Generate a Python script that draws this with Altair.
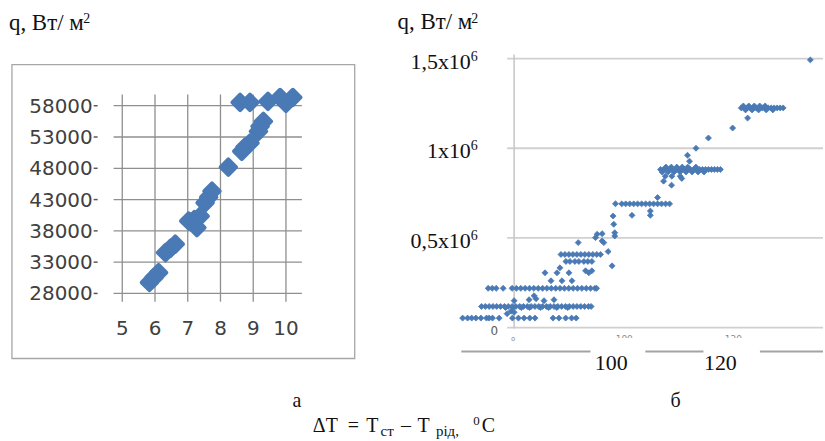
import altair as alt
import pandas as pd

SERIF = "Liberation Serif"
SANS = "DejaVu Sans"
BLUE = "#4a7ab5"

# ---------------- panel а ----------------
a_dt = [5.83, 6.11, 5.97, 6.32, 6.62, 6.47, 7.03, 7.38, 7.28, 7.20, 7.53, 7.74, 7.64,
        8.24, 8.65, 8.90, 8.75, 9.16, 9.31, 9.21, 8.60, 8.90, 9.45, 9.82, 10.21, 10.00]
a_q = [29750, 31340, 30550, 34530, 35870, 35200, 39580, 40370, 38510, 39800, 42490, 44350, 43400,
       48180, 50720, 52040, 51400, 53910, 55500, 54700, 58530, 58530, 58690, 59320, 59320, 58370]
a_xticks = [5, 6, 7, 8, 9, 10]
a_yticks = [28000, 33000, 38000, 43000, 48000, 53000, 58000]

# ---------------- panel б ----------------
rowA_q = 53000
rowA_dt = [70.74, 71.65, 72.40, 73.18, 74.09, 75.12, 75.60, 76.22, 77.44,
           79.87, 80.97, 82.01, 83.05, 84.02, 87.31, 88.40, 89.63, 90.72, 91.56]
rowB_q = 118000
rowB_dt = [74.2, 74.9, 75.6, 76.3, 77.0, 77.7, 78.4, 79.1, 79.8, 80.5, 81.2, 81.9, 82.6, 83.3,
           84.0, 84.7, 85.4, 86.1, 86.8, 87.5, 88.2, 88.9, 89.6, 90.3, 91.0, 91.7, 92.4, 93.1, 93.8, 94.3]
rowB2_q = 112000
rowB2_dt = [78.6, 80.0, 81.5, 83.0, 85.0, 86.5, 88.0, 90.0]
rowC_q = 219000
rowC_dt = [75.43, 76.16, 76.89, 78.17, 79.8, 80.6, 81.4, 82.2, 83.0, 83.8, 84.6, 85.4, 86.2, 87.0,
           87.8, 88.6, 89.4, 90.2, 91.0, 91.8, 92.6, 93.4, 94.2, 95.0, 95.3]
rowD_q = 369000
rowD_dt = [89.68, 90.41, 91.32, 92.05, 92.97, 93.70, 94.43]
rowE_q = 408000
rowE_dt = [88.77, 89.50, 90.23, 90.96, 91.69, 92.42, 93.15, 93.88, 94.61, 95.34, 96.02]
rowF_q = 690000
rowF_dt = [99.91, 100.64, 101.37, 102.10, 102.83, 103.56, 104.29, 105.02, 105.75, 106.48,
           107.21, 107.95, 108.68]
rowG_q = 882000
rowG_dt = [107.03, 107.58, 108.13, 108.68, 109.22, 109.77, 110.32, 110.87, 111.42, 111.96, 112.51,
           113.06, 113.61, 114.16, 114.70, 115.25, 115.80, 116.35, 116.89, 117.44, 117.99]
rowG2_q = 868000
rowG2_dt = [107.3, 108.4, 109.5, 110.6, 111.7, 112.8, 113.9, 115.0]
rowG3_q = 895000
rowG3_dt = [108.0, 109.0, 110.0, 111.0, 112.0, 113.5]
rowH_q = 1225000
rowH_dt = [121.83, 122.37, 122.92, 123.47, 124.02, 124.57, 125.11, 125.66, 126.21, 126.76,
           127.31, 127.85, 128.40, 128.95, 129.50]
rowH2_q = 1236000
rowH2_dt = [122.2, 123.2, 124.2, 125.2, 126.2]
rowH3_q = 1214000
rowH3_dt = [122.6, 123.8, 125.0, 126.4, 127.6]
scat_dt = [80.18, 82.92, 84.20, 83.84, 85.66, 87.49, 78.90, 79.63, 80.18,
           86.94, 88.95, 90.78, 85.84, 88.04, 90.23, 93.88, 88.58, 94.43, 93.28, 98.14, 97.41,
           91.93, 95.40, 96.31, 95.10, 96.31, 96.62,
           98.32, 98.45, 98.63, 98.63, 98.76,
           101.79, 105.15, 105.15, 106.48, 107.58, 109.04, 107.89, 109.10, 110.63, 110.92,
           112.33, 111.96, 113.52, 115.80, 120.24, 122.98, 134.48]
scat_q = [150000, 155600, 161100, 177800, 150000, 155600, 77800, 91700, 85000,
          261100, 261100, 261100, 305600, 305600, 305600, 305600, 333300, 316700, 316700, 344400, 423900,
          473900, 520600, 523900, 501700, 483300, 473900,
          622200, 576100, 529400, 511100, 690600,
          626100, 626100, 650000, 725000, 816700, 794400, 844400, 844400, 844400, 831700,
          927800, 961100, 1000000, 1057200, 1112800, 1168300, 1492800]
b_yticks = [0, 500000, 1000000, 1500000]
b_ylab_vals = [500000, 1000000, 1500000]
b_ylab_main = ["0,5x10", "1x10", "1,5x10"]
b_ylab_sup = ["6", "6", "6"]
b_xsmall_vals = [100, 120]
b_xsmall_lab = ["100", "120"]
b_xbig_vals = [100, 120]
b_xbig_lab = ["100", "120"]

# ---------------- helpers ----------------
ONE = pd.DataFrame({"k": [0]})


def note(text, x, y, size, align="left", font=SERIF, color="#111111"):
    return alt.Chart(ONE).mark_text(
        text=text, align=align, baseline="alphabetic", font=font, fontSize=size, color=color
    ).encode(x=alt.value(x), y=alt.value(y))


def rect(x, x2, y, y2, fill="white", stroke="white", sw=0):
    return alt.Chart(ONE).mark_rect(fill=fill, stroke=stroke, strokeWidth=sw).encode(
        x=alt.value(x), x2=alt.value(x2), y=alt.value(y), y2=alt.value(y2))


def hline(x, x2, y, color, sw):
    return alt.Chart(ONE).mark_rule(color=color, strokeWidth=sw).encode(
        x=alt.value(x), x2=alt.value(x2), y=alt.value(y))


# ---------------- panel а chart ----------------
A_X = alt.Scale(domain=[1.2964, 13.4693], nice=False, zero=False)
A_Y = alt.Scale(domain=[4385, 74608], nice=False, zero=False)

a_df = pd.DataFrame({"dt": a_dt, "q": a_q})
ax_df = pd.DataFrame({"t": a_xticks, "lbl": [str(t) for t in a_xticks]})
ay_df = pd.DataFrame({"v": a_yticks, "lbl": [str(v) for v in a_yticks]})

GRID_A = "#8f8f8f"
a_frame = rect(11, 355, 63, 358, fill="white", stroke="#a6a6a6", sw=1.3)
a_vgrid = alt.Chart(ax_df).mark_rule(color=GRID_A, strokeWidth=1.3).encode(
    x=alt.X("t:Q", scale=A_X, axis=None), y=alt.value(93), y2=alt.value(301))
a_hgrid = alt.Chart(ay_df).mark_rule(color=GRID_A, strokeWidth=1.3).encode(
    y=alt.Y("v:Q", scale=A_Y, axis=None), x=alt.value(113), x2=alt.value(302))
a_ticks = alt.Chart(ay_df).mark_rule(color="#595959", strokeWidth=1.5).encode(
    y=alt.Y("v:Q", scale=A_Y, axis=None), x=alt.value(93), x2=alt.value(97))
a_ylab = alt.Chart(ay_df).mark_text(
    align="right", baseline="middle", font=SANS, fontSize=20, color="#404040", dy=1
).encode(y=alt.Y("v:Q", scale=A_Y, axis=None), x=alt.value(92), text="lbl:N")
a_xlab = alt.Chart(ax_df).mark_text(
    align="center", baseline="middle", font=SANS, fontSize=20, color="#404040"
).encode(x=alt.X("t:Q", scale=A_X, axis=None), y=alt.value(328), text="lbl:N")
a_pts = alt.Chart(a_df).mark_point(
    shape="diamond", filled=True, size=240, color=BLUE, opacity=1,
    stroke=BLUE, strokeWidth=4, strokeJoin="round"
).encode(x=alt.X("dt:Q", scale=A_X, axis=None), y=alt.Y("q:Q", scale=A_Y, axis=None))

left = alt.layer(
    a_frame, a_vgrid, a_hgrid, a_ticks, a_ylab, a_xlab, a_pts,
    note("q, Вт/ м", 8, 28, 23),
    note("2", 82.5, 21, 14),
    note("а", 297, 407, 20, align="center"),
    note("ΔT", 313, 432, 20),
    note("=", 348, 432, 20),
    note("T", 366.5, 432, 20),
    note("ст", 381, 436, 15),
    note("–", 401.5, 432, 20),
    note("T", 418, 432, 20),
    note("рід,", 436.5, 436, 15),
    note("0", 474, 424.5, 13),
    note("C", 482.5, 432, 20),
).properties(width=400, height=441)

# ---------------- panel б chart ----------------
B_X = alt.Scale(domain=[59.178, 136.804], nice=False, zero=False)
B_Y = alt.Scale(domain=[-633333, 1816667], nice=False, zero=False)

groups = [
    (rowA_dt, rowA_q), (rowB_dt, rowB_q), (rowB2_dt, rowB2_q), (rowC_dt, rowC_q),
    (rowD_dt, rowD_q), (rowE_dt, rowE_q), (rowF_dt, rowF_q), (rowG_dt, rowG_q),
    (rowG2_dt, rowG2_q), (rowG3_dt, rowG3_q), (rowH_dt, rowH_q), (rowH2_dt, rowH2_q),
    (rowH3_dt, rowH3_q),
]
b_dt, b_q = [], []
for dts, qv in groups:
    b_dt += dts
    b_q += [qv] * len(dts)
b_dt += scat_dt
b_q += scat_q
b_df = pd.DataFrame({"dt": b_dt, "q": b_q})

GRID_B = "#d0d0d0"
b_grid = alt.Chart(pd.DataFrame({"v": b_yticks})).mark_rule(color=GRID_B, strokeWidth=1.8).encode(
    y=alt.Y("v:Q", scale=B_Y, axis=None), x=alt.value(108), x2=alt.value(425))
b_axis = alt.Chart(ONE).mark_rule(color="#c8c8c8", strokeWidth=1.6).encode(
    x=alt.value(115), y=alt.value(53), y2=alt.value(328))
b_pts = alt.Chart(b_df).mark_point(
    shape="diamond", filled=True, size=36, color=BLUE, opacity=1,
    stroke=BLUE, strokeWidth=0.8
).encode(x=alt.X("dt:Q", scale=B_X, axis=None), y=alt.Y("q:Q", scale=B_Y, axis=None))

ylab_df = pd.DataFrame({"v": b_ylab_vals, "main": b_ylab_main, "sup": b_ylab_sup})
b_ylab = alt.Chart(ylab_df).mark_text(
    align="right", baseline="alphabetic", font=SERIF, fontSize=22, color="#111111", dy=10
).encode(y=alt.Y("v:Q", scale=B_Y, axis=None), x=alt.value(71.5), text="main:N")
b_ysup = alt.Chart(ylab_df).mark_text(
    align="left", baseline="alphabetic", font=SERIF, fontSize=14, color="#111111", dy=2
).encode(y=alt.Y("v:Q", scale=B_Y, axis=None), x=alt.value(71.5), text="sup:N")
b_zero = alt.Chart(pd.DataFrame({"v": [0], "lbl": ["0"]})).mark_text(
    align="center", baseline="middle", font=SANS, fontSize=12, color="#595959", dy=3
).encode(y=alt.Y("v:Q", scale=B_Y, axis=None), x=alt.value(95), text="lbl:N")

xs_df = pd.DataFrame({"t": b_xsmall_vals, "lbl": b_xsmall_lab})
b_xsmall = alt.Chart(xs_df).mark_text(
    align="center", baseline="alphabetic", font=SANS, fontSize=9, color="#8a8a8a", dx=2
).encode(x=alt.X("t:Q", scale=B_X, axis=None), y=alt.value(341), text="lbl:N")
b_xzero = alt.Chart(pd.DataFrame({"t": [80], "lbl": ["o"]})).mark_text(
    align="center", baseline="alphabetic", font=SANS, fontSize=7, color="#8a8a8a"
).encode(x=alt.X("t:Q", scale=B_X, axis=None), y=alt.value(340), text="lbl:N")

xb_df = pd.DataFrame({"t": b_xbig_vals, "lbl": b_xbig_lab})
b_xbig = alt.Chart(xb_df).mark_text(
    align="center", baseline="alphabetic", font=SERIF, fontSize=22, color="#111111", dx=-11
).encode(x=alt.X("t:Q", scale=B_X, axis=None), y=alt.value(370), text="lbl:N")

right = alt.layer(
    b_grid, b_axis, b_pts, b_ylab, b_ysup, b_zero, b_xsmall,
    rect(0, 425, 337.5, 349),
    b_xzero,
    hline(62, 425, 351, "#a3a3a3", 2),
    rect(191.7, 246.7, 344, 358),
    rect(305, 361.7, 344, 358),
    b_xbig,
    note("q, Вт/ м", -2, 27, 23),
    note("2", 72, 21, 14),
    note("б", 277, 407, 20, align="center"),
).properties(width=425, height=441)

chart = alt.hconcat(left, right, spacing=0, bounds="flush").resolve_scale(
    x="independent", y="independent"
).properties(padding=0, background="white").configure_view(stroke="transparent")

chart.save("out.html", embed_options={"renderer": "svg", "actions": False})
